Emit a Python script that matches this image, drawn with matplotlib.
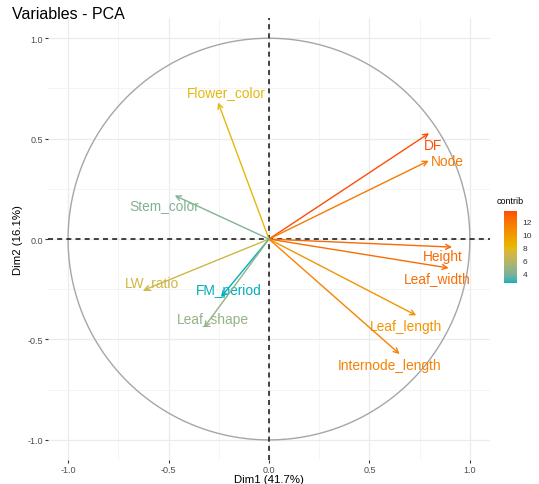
# PCA variables plot (correlation circle) coloured by contribution

import numpy as np
import matplotlib.pyplot as plt
from matplotlib.colors import ListedColormap, Normalize, to_rgb
from matplotlib.cm import ScalarMappable

plt.rcParams['font.family'] = ['Liberation Sans', 'DejaVu Sans']

# Variable coordinates on Dim1 / Dim2 and their contributions
variables = ['DF', 'Node', 'Height', 'Leaf_width', 'Leaf_length', 'Internode_length',
             'Flower_color', 'Stem_color', 'LW_ratio', 'FM_period', 'Leaf_shape']
dim1 = [0.797, 0.795, 0.911, 0.894, 0.733, 0.650, -0.253, -0.469, -0.625, -0.239, -0.323]
dim2 = [0.527, 0.390, -0.040, -0.144, -0.380, -0.572, 0.680, 0.217, -0.255, -0.289, -0.440]
contrib = [13.7, 11.8, 12.5, 12.3, 10.3, 11.3, 8.0, 4.1, 7.0, 2.5, 4.6]

# where each label sits
label_x = [0.815, 0.89, 0.863, 0.84, 0.683, 0.60, -0.21, -0.52, -0.58, -0.198, -0.278]
label_y = [0.47, 0.39, -0.085, -0.194, -0.434, -0.627, 0.73, 0.168, -0.215, -0.252, -0.398]

ticks = [-1.0, -0.5, 0.0, 0.5, 1.0]
minor_ticks = [-0.75, -0.25, 0.25, 0.75]
gradient_cols = ['#00AFBB', '#E7B800', '#FC4E07']


def srgb_to_lab(rgb):
    """sRGB (0-1) to CIE Lab, D65."""
    c = np.array(rgb, dtype=float)
    c = np.where(c > 0.04045, ((c + 0.055) / 1.055) ** 2.4, c / 12.92)
    m = np.array([[0.4124, 0.3576, 0.1805],
                  [0.2126, 0.7152, 0.0722],
                  [0.0193, 0.1192, 0.9505]])
    xyz = m @ c / np.array([0.95047, 1.0, 1.08883])
    f = np.where(xyz > 0.008856, np.cbrt(xyz), 7.787 * xyz + 16 / 116)
    return np.array([116 * f[1] - 16, 500 * (f[0] - f[1]), 200 * (f[1] - f[2])])


def lab_to_srgb(lab):
    fy = (lab[0] + 16) / 116
    fx = fy + lab[1] / 500
    fz = fy - lab[2] / 200
    f = np.array([fx, fy, fz])
    xyz = np.where(f ** 3 > 0.008856, f ** 3, (f - 16 / 116) / 7.787)
    xyz = xyz * np.array([0.95047, 1.0, 1.08883])
    minv = np.array([[3.2406, -1.5372, -0.4986],
                     [-0.9689, 1.8758, 0.0415],
                     [0.0557, -0.2040, 1.0570]])
    c = minv @ xyz
    c = np.where(c > 0.0031308, 1.055 * np.clip(c, 0, None) ** (1 / 2.4) - 0.055, 12.92 * c)
    return np.clip(c, 0, 1)


# gradient interpolated in Lab space, like ggplot's gradientn
labs = [srgb_to_lab(to_rgb(c)) for c in gradient_cols]
colors = []
for t in np.linspace(0, 1, 256):
    s = t * (len(labs) - 1)
    i = min(int(s), len(labs) - 2)
    w = s - i
    colors.append(lab_to_srgb(labs[i] * (1 - w) + labs[i + 1] * w))
cmap = ListedColormap(colors)
norm = Normalize(vmin=min(contrib), vmax=max(contrib))

fig = plt.figure(figsize=(5.39, 4.85), dpi=100)
ax = fig.add_axes([0.089, 0.0495, 0.820, 0.911])

# grid like theme_minimal
ax.set_xticks(ticks)
ax.set_yticks(ticks)
ax.set_xticks(minor_ticks, minor=True)
ax.set_yticks(minor_ticks, minor=True)
ax.grid(which='major', color='#EBEBEB', linewidth=0.9)
ax.grid(which='minor', color='#F3F3F3', linewidth=0.6)
ax.set_axisbelow(True)
for s in ax.spines.values():
    s.set_visible(False)
ax.tick_params(which='minor', length=0)
ax.tick_params(which='major', length=2, width=0.8, color='#333333',
               labelsize=6.5, labelcolor='#4D4D4D', pad=1.5)
ax.set_xticklabels(['-1.0', '-0.5', '0.0', '0.5', '1.0'])
ax.set_yticklabels(['-1.0', '-0.5', '0.0', '0.5', '1.0'])

# correlation circle
theta = np.linspace(0, 2 * np.pi, 400)
ax.plot(np.cos(theta), np.sin(theta), color='#A6A6A6', linewidth=1.0)

# dashed axes through origin
ax.axhline(0, color='#222222', linestyle=(0, (3, 2.5)), linewidth=1.2)
ax.axvline(0, color='#222222', linestyle=(0, (3, 2.5)), linewidth=1.2)

# arrows and labels
for name, x, y, c, lx, ly in zip(variables, dim1, dim2, contrib, label_x, label_y):
    col = cmap(norm(c))
    ax.annotate('', xy=(x, y), xytext=(0, 0),
                arrowprops=dict(arrowstyle='->,head_length=0.35,head_width=0.18',
                                color=col, linewidth=1.0, shrinkA=0, shrinkB=0))
    ax.text(lx, ly, name, color=col, fontsize=9.9, ha='center', va='center')

ax.set_xlim(-1.1, 1.1)
ax.set_ylim(-1.1, 1.1)
ax.set_xlabel('Dim1 (41.7%)', fontsize=8.2, labelpad=0)
ax.set_ylabel('Dim2 (16.1%)', fontsize=8.2, labelpad=3)

fig.text(0.022, 0.971, 'Variables - PCA', fontsize=11.5, ha='left', va='center')

# colorbar legend
cax = fig.add_axes([504 / 539, 1 - 284 / 485, 13 / 539, 72 / 485])
cb = fig.colorbar(ScalarMappable(norm=norm, cmap=cmap), cax=cax)
cb.set_ticks([4, 6, 8, 10, 12])
cb.outline.set_visible(False)
cb.ax.tick_params(labelsize=6, length=2, color='white', labelcolor='#333333', pad=2)
fig.text(510 / 539, 1 - 202 / 485, 'contrib', fontsize=6.5, ha='center', va='center')

fig.savefig('out.png', dpi=100)
